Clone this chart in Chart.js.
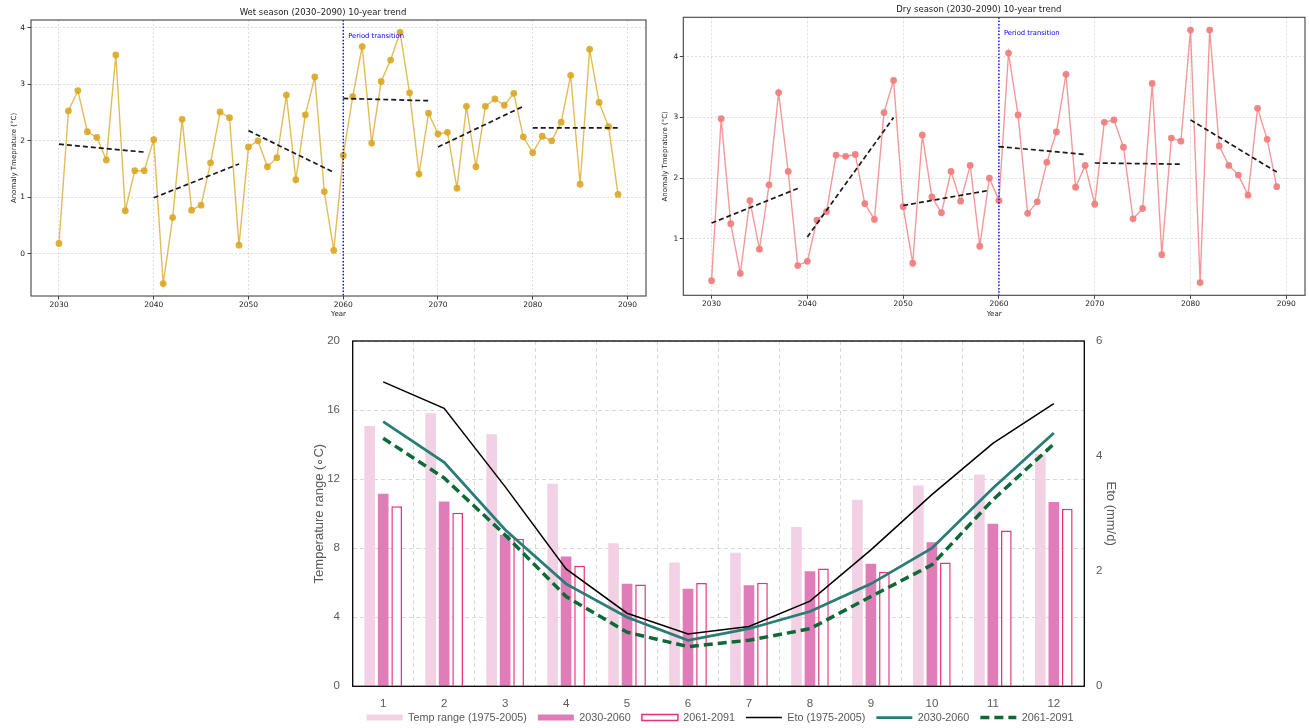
<!DOCTYPE html>
<html lang="en">
<head>
  <meta charset="UTF-8" />
  <title>Temperature anomaly trends and Eto</title>
  <script src="https://cdn.jsdelivr.net/npm/chart.js"></script>
  <style>
    body { margin: 0; background: #fff; overflow: hidden; }
    .panel { position: absolute; }
    #wetBox { left: 0; top: 0; }
    #dryBox { left: 650px; top: 0; }
    #etoBox { left: 310px; top: 330px; }
    .soft { filter: blur(0.3px); }
  </style>
</head>
<body>
  <div class="panel soft" id="wetBox"><canvas id="wetChart" width="650" height="320"></canvas></div>
  <div class="panel soft" id="dryBox"><canvas id="dryChart" width="659" height="320"></canvas></div>
  <div class="panel" id="etoBox"><canvas id="etoChart" width="820" height="403"></canvas></div>

  <script>
    // ---- seasonal anomaly series (°C) ----
    const years = [
      2030, 2031, 2032, 2033, 2034, 2035, 2036, 2037, 2038, 2039,
      2040, 2041, 2042, 2043, 2044, 2045, 2046, 2047, 2048, 2049,
      2050, 2051, 2052, 2053, 2054, 2055, 2056, 2057, 2058, 2059,
      2060, 2061, 2062, 2063, 2064, 2065, 2066, 2067, 2068, 2069,
      2070, 2071, 2072, 2073, 2074, 2075, 2076, 2077, 2078, 2079,
      2080, 2081, 2082, 2083, 2084, 2085, 2086, 2087, 2088, 2089
    ];
    const wetAnomaly = [
      0.18, 2.53, 2.89, 2.16, 2.06, 1.66, 3.52, 0.76, 1.47, 1.47,
      2.02, -0.53, 0.64, 2.38, 0.77, 0.86, 1.61, 2.51, 2.41, 0.15,
      1.89, 2.00, 1.54, 1.70, 2.81, 1.31, 2.46, 3.13, 1.10, 0.06,
      1.74, 2.78, 3.67, 1.96, 3.05, 3.43, 3.92, 2.85, 1.41, 2.49,
      2.12, 2.15, 1.16, 2.61, 1.54, 2.61, 2.74, 2.63, 2.84, 2.07,
      1.79, 2.08, 2.00, 2.33, 3.16, 1.23, 3.62, 2.68, 2.25, 1.05
    ];
    const dryAnomaly = [
      0.31, 2.98, 1.25, 0.43, 1.63, 0.83, 1.89, 3.41, 2.11, 0.56,
      0.63, 1.31, 1.45, 2.38, 2.36, 2.39, 1.58, 1.32, 3.08, 3.61,
      1.53, 0.60, 2.71, 1.69, 1.43, 2.11, 1.62, 2.21, 0.88, 2.00,
      1.63, 4.06, 3.04, 1.42, 1.61, 2.26, 2.76, 3.71, 1.85, 2.21,
      1.57, 2.92, 2.96, 2.51, 1.33, 1.50, 3.56, 0.74, 2.66, 2.61,
      4.44, 0.28, 4.44, 2.53, 2.21, 2.05, 1.72, 3.15, 2.64, 1.86
    ];

    // 10-year trend segments: first and last year, fitted value at each end
    const trendFrom = [2030, 2040, 2050, 2060, 2070, 2080];
    const trendTo = [2039, 2049, 2059, 2069, 2079, 2089];
    const wetTrendStart = [1.94, 0.99, 2.18, 2.75, 1.89, 2.23];
    const wetTrendEnd = [1.80, 1.59, 1.44, 2.71, 2.61, 2.23];
    const dryTrendStart = [1.26, 1.03, 1.55, 2.52, 2.25, 2.96];
    const dryTrendEnd = [1.83, 3.00, 1.80, 2.39, 2.23, 2.10];
    const transitionYear = 2060;

    // ---- monthly temperature range (°C) and Eto (mm/d) ----
    const months = ['1', '2', '3', '4', '5', '6', '7', '8', '9', '10', '11', '12'];
    const tempRange1975 = [15.08, 15.81, 14.60, 11.73, 8.29, 7.17, 7.73, 9.22, 10.80, 11.63, 12.27, 13.46];
    const tempRange2030 = [11.15, 10.70, 8.76, 7.52, 5.94, 5.65, 5.86, 6.67, 7.10, 8.35, 9.41, 10.67];
    const tempRange2061 = [10.43, 10.05, 8.54, 6.98, 5.90, 5.98, 6.00, 6.83, 6.63, 7.17, 9.03, 10.28];
    const eto1975 = [5.29, 4.83, 3.47, 2.04, 1.27, 0.91, 1.04, 1.48, 2.37, 3.33, 4.22, 4.91];
    const eto2030 = [4.60, 3.89, 2.72, 1.78, 1.20, 0.80, 1.00, 1.30, 1.78, 2.40, 3.44, 4.40];
    const eto2061 = [4.31, 3.62, 2.63, 1.56, 0.94, 0.69, 0.80, 1.00, 1.56, 2.11, 3.24, 4.21];

    const mplFont = 'DejaVu Sans';
    const sans = '"Liberation Sans", Arial, sans-serif';

    // dotted transition marker, its label and the full frame round the axes
    const seasonFrame = {
      id: 'seasonFrame',
      afterDatasetsDraw(chart, args, opts) {
        const { ctx, chartArea: a, scales: { x, y } } = chart;
        const px = x.getPixelForValue(transitionYear);
        ctx.save();
        ctx.strokeStyle = '#0000ff';
        ctx.lineWidth = 1.4;
        ctx.setLineDash([1.5, 1.8]);
        ctx.beginPath();
        ctx.moveTo(px, a.top);
        ctx.lineTo(px, a.bottom);
        ctx.stroke();
        ctx.setLineDash([]);
        ctx.fillStyle = '#0000ff';
        ctx.font = '6.8px "DejaVu Sans"';
        ctx.textBaseline = 'middle';
        ctx.fillText('Period transition', px + 5, y.getPixelForValue(opts.labelY));
        ctx.strokeStyle = '#444';
        ctx.lineWidth = 1.1;
        ctx.strokeRect(a.left, a.top, a.right - a.left, a.bottom - a.top);
        ctx.restore();
      }
    };

    function seasonChart(id, cfg) {
      const points = years.map((yr, i) => ({ x: yr, y: cfg.values[i] }));
      const trends = trendFrom.map((x0, i) => ({
        data: [{ x: x0, y: cfg.trendStart[i] }, { x: trendTo[i], y: cfg.trendEnd[i] }],
        borderColor: '#1a1a1a',
        borderWidth: 1.7,
        borderDash: [5, 3],
        pointRadius: 0
      }));
      const tickFont = { family: mplFont, size: 7.5 };
      return new Chart(document.getElementById(id), {
        type: 'line',
        data: {
          datasets: [...trends, {
            data: points,
            borderColor: cfg.line,
            borderWidth: 1.4,
            pointRadius: 3.4,
            pointBackgroundColor: cfg.marker,
            pointBorderWidth: 0,
            tension: 0
          }]
        },
        options: {
          responsive: false,
          animation: false,
          devicePixelRatio: 1,
          layout: { padding: { left: 0, right: cfg.padRight, top: 0, bottom: 0 } },
          plugins: {
            legend: { display: false },
            tooltip: { enabled: false },
            title: {
              display: true,
              text: cfg.title,
              color: '#222',
              font: { family: mplFont, size: 8.5, weight: 'normal' },
              padding: { top: cfg.titleTop, bottom: cfg.titleBottom }
            },
            seasonFrame: { labelY: cfg.labelY }
          },
          scales: {
            x: {
              type: 'linear',
              min: 2027.05,
              max: 2091.95,
              afterFit: s => { s.height = cfg.xHeight; },
              ticks: {
                stepSize: 10, includeBounds: false, maxRotation: 0,
                callback: v => String(v), color: '#222', font: tickFont, padding: 1
              },
              grid: { color: 'rgba(0,0,0,0.13)', tickColor: '#444', tickLength: 3.5 },
              border: { display: false, dash: [2, 2] },
              title: {
                display: true, text: 'Year', color: '#222',
                font: { family: mplFont, size: 7 }, padding: { top: 0, bottom: 2 }
              }
            },
            y: {
              min: cfg.yMin,
              max: cfg.yMax,
              afterFit: s => { s.width = cfg.yWidth; },
              ticks: { stepSize: 1, includeBounds: false, color: '#222', font: tickFont, padding: cfg.yTickPad },
              grid: { color: 'rgba(0,0,0,0.13)', tickColor: '#444', tickLength: 3.5 },
              border: { display: false, dash: [2, 2] },
              title: {
                display: true, text: 'Anomaly Tmeprature (°C)', color: '#222',
                font: { family: mplFont, size: 7 }, padding: { top: cfg.yTitlePad, bottom: 0 }
              }
            }
          }
        },
        plugins: [seasonFrame]
      });
    }

    seasonChart('wetChart', {
      values: wetAnomaly, trendStart: wetTrendStart, trendEnd: wetTrendEnd,
      title: 'Wet season (2030\u20132090) 10-year trend',
      line: 'rgba(218,165,32,0.75)', marker: 'rgba(218,165,32,0.88)',
      yMin: -0.75, yMax: 4.14, labelY: 3.86,
      yWidth: 31, xHeight: 24, padRight: 4, titleTop: 7.5, titleBottom: 2.3,
      yTickPad: 2.5, yTitlePad: 9.5
    });

    seasonChart('dryChart', {
      values: dryAnomaly, trendStart: dryTrendStart, trendEnd: dryTrendEnd,
      title: 'Dry season (2030\u20132090) 10-year trend',
      line: 'rgba(240,128,128,0.8)', marker: 'rgba(240,128,128,0.95)',
      yMin: 0.07, yMax: 4.65, labelY: 4.38,
      yWidth: 33.3, xHeight: 24.7, padRight: 1.3, titleTop: 4.9, titleBottom: 2.2,
      yTickPad: 1.5, yTitlePad: 10.8
    });

    // black box round the monthly chart
    const plotBox = {
      id: 'plotBox',
      afterLayout(chart) {
        // month labels sit lower than the thin x box; stretch it so they are not clipped
        chart.scales.x.bottom = chart.height;
      },
      afterDraw(chart) {
        const { ctx, chartArea: a } = chart;
        ctx.save();
        ctx.strokeStyle = '#000';
        ctx.lineWidth = 1.3;
        ctx.strokeRect(a.left, a.top, a.right - a.left, a.bottom - a.top);
        ctx.restore();
      }
    };

    // fixed axis width; drop the extra top/bottom room the wide tick padding asks for
    const fitSide = w => s => {
      s.width = w;
      s.paddingTop = 6;
      s.paddingBottom = 6;
    };

    const gray = '#595959';
    const gridDash = [4, 3];

    new Chart(document.getElementById('etoChart'), {
      type: 'bar',
      data: {
        labels: months,
        datasets: [
          { label: 'Temp range (1975-2005)', data: tempRange1975, backgroundColor: '#F2D1E4', borderWidth: 0, yAxisID: 'y', order: 2 },
          { label: '2030-2060', data: tempRange2030, backgroundColor: '#E07DB8', borderWidth: 0, yAxisID: 'y', order: 2 },
          { label: '2061-2091', data: tempRange2061, backgroundColor: '#FFFFFF', borderColor: '#EB2F79', borderWidth: 1.5, yAxisID: 'y', order: 2 },
          { type: 'line', label: 'Eto (1975-2005)', data: eto1975, borderColor: '#000000', borderWidth: 1.5, pointRadius: 0, tension: 0, yAxisID: 'y2', order: 1 },
          { type: 'line', label: '2030-2060', data: eto2030, borderColor: '#2A7D74', borderWidth: 2.8, pointRadius: 0, tension: 0, yAxisID: 'y2', order: 1 },
          { type: 'line', label: '2061-2091', data: eto2061, borderColor: '#0B6A36', borderWidth: 3.5, borderDash: [9, 5], pointRadius: 0, tension: 0, yAxisID: 'y2', order: 1 }
        ]
      },
      options: {
        responsive: false,
        animation: false,
        devicePixelRatio: 1,
        layout: { padding: { left: 0, right: 0, top: 11, bottom: 0 } },
        datasets: { bar: { categoryPercentage: 0.664, barPercentage: 0.79 } },
        plugins: {
          tooltip: { enabled: false },
          legend: {
            position: 'bottom',
            labels: {
              color: gray,
              font: { family: sans, size: 10.8 },
              usePointStyle: true,
              pointStyleWidth: 36,
              boxHeight: 6,
              padding: 11,
              sort: (a, b) => a.datasetIndex - b.datasetIndex,
              generateLabels(chart) {
                const items = Chart.defaults.plugins.legend.labels.generateLabels(chart);
                items.forEach(it => {
                  const ds = chart.data.datasets[it.datasetIndex];
                  it.pointStyle = ds.type === 'line' ? 'line' : 'rect';
                  it.lineWidth = ds.borderWidth || 0;
                  it.lineDash = ds.borderDash || [];
                });
                return items;
              }
            }
          }
        },
        scales: {
          x: {
            afterFit: s => { s.height = 14.9; },
            ticks: { color: gray, font: { family: sans, size: 11.5 }, padding: 11, maxRotation: 0, autoSkip: false },
            grid: { color: '#d9d9d9', drawTicks: false },
            border: { display: false, dash: gridDash }
          },
          y: {
            position: 'left',
            min: 0,
            max: 20,
            afterFit: fitSide(42.7),
            ticks: { stepSize: 4, color: gray, font: { family: sans, size: 11.5 }, padding: 12.7 },
            grid: { color: '#d9d9d9', drawTicks: false },
            border: { display: false, dash: gridDash },
            title: {
              display: true, text: 'Temperature range (\u2218C)', color: gray,
              font: { family: sans, size: 13 }, padding: { top: 1.2, bottom: 0 }
            }
          },
          y2: {
            position: 'right',
            min: 0,
            max: 6,
            afterFit: fitSide(45.7),
            ticks: { stepSize: 2, color: gray, font: { family: sans, size: 11.5 }, padding: 11.7 },
            grid: { display: false, drawTicks: false },
            border: { display: false },
            title: {
              display: true, text: 'Eto (mm/d)', color: gray,
              font: { family: sans, size: 13 }, padding: { top: 11.2, bottom: 0 }
            }
          }
        }
      },
      plugins: [plotBox]
    });
  </script>
</body>
</html>
